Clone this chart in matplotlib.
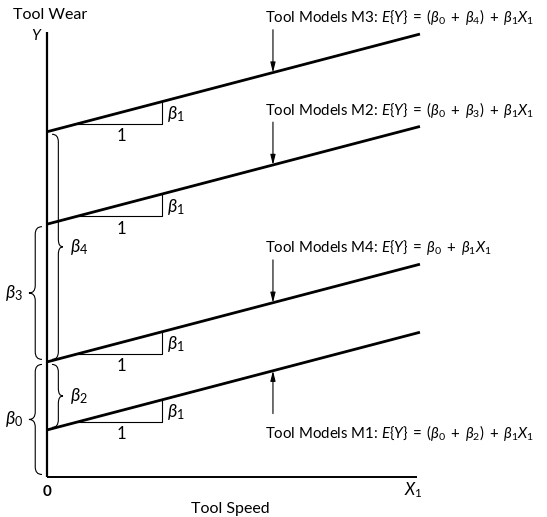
import matplotlib
matplotlib.use("Agg")
import matplotlib.pyplot as plt
from matplotlib.path import Path
from matplotlib.patches import PathPatch

plt.rcParams['font.family'] = ['Lato', 'DejaVu Sans']
plt.rcParams['mathtext.fontset'] = 'custom'
plt.rcParams['mathtext.rm'] = 'Lato'
plt.rcParams['mathtext.it'] = 'Lato:italic'
plt.rcParams['mathtext.bf'] = 'Lato:bold'

# ---------------- data (diagram units) ----------------
models = ["M3", "M2", "M4", "M1"]
intercepts = [4.11, 3.01, 1.37, 0.56]
slope = 0.262                     # beta_1 (common slope)
equations = [
    r"Tool Models M3: $E\{Y\}\;=\;(\beta_0\;+\;\beta_4)\;+\;\beta_1X_1$",
    r"Tool Models M2: $E\{Y\}\;=\;(\beta_0\;+\;\beta_3)\;+\;\beta_1X_1$",
    r"Tool Models M4: $E\{Y\}\;=\;\beta_0\;+\;\beta_1X_1$",
    r"Tool Models M1: $E\{Y\}\;=\;(\beta_0\;+\;\beta_2)\;+\;\beta_1X_1$",
]
arrow_dir = ["down", "down", "down", "up"]
x_line_end = 4.44
x_axis_max = 4.40
y_axis_max = 5.30
tri_start = 0.37
tri_run = 1.0
arrow_x = 2.69

brace_labels = [r"$\beta_0$", r"$\beta_3$", r"$\beta_4$", r"$\beta_2$"]
brace_low = [0.0, 1.37, 1.37, 0.56]
brace_high = [1.37, 3.01, 4.11, 1.37]
brace_side = ["left", "left", "right", "right"]

# ---------------- figure ----------------
PX = 84.0
fig = plt.figure(figsize=(5.47, 5.17), dpi=100)
ax = fig.add_axes([0, 0, 1, 1])
ax.set_xlim(-47 / PX, 500 / PX)
ax.set_ylim(-40 / PX, 477 / PX)
ax.axis('off')

FS = 11
EQ_FS = 10.8

# axes
ax.plot([0, 0], [0, y_axis_max], color='black', lw=1.6, solid_capstyle='butt')
ax.plot([0, x_axis_max], [0, 0], color='black', lw=1.4, solid_capstyle='butt')
ax.text(13 / PX - 47 / PX, 5.45, "Tool Wear", fontsize=FS + 0.5, ha='left', va='baseline')
ax.text(-0.12, 5.25, r"$Y$", fontsize=FS, ha='center', va='center')
ax.text(0.0, -0.18, "0", fontsize=FS, ha='center', va='center', fontweight='bold')
ax.text(4.36, -0.16, r"$X_1$", fontsize=FS + 1, ha='center', va='center')
ax.text(2.18, -0.43, "Tool Speed", fontsize=FS + 0.5, ha='center', va='baseline')

for m, b, eq, d in zip(models, intercepts, equations, arrow_dir):
    # model line
    ax.plot([0, x_line_end], [b, b + slope * x_line_end], color='black', lw=2.0,
            solid_capstyle='butt')
    # slope triangle
    y0 = b + slope * tri_start
    x1 = tri_start + tri_run
    ax.plot([tri_start, x1, x1], [y0, y0, b + slope * x1], color='black', lw=0.8)
    ax.text(tri_start + tri_run / 2 + 0.02, y0 - 0.15, "1", fontsize=FS + 1, ha='center', va='center')
    ax.text(x1 + 0.06, y0 + slope * tri_run / 2 - 0.02, r"$\beta_1$", fontsize=FS + 2,
            ha='left', va='center')
    # arrow + equation
    ly = b + slope * arrow_x
    if d == "down":
        tail = ly + 0.51
        ty = tail + 0.09
    else:
        tail = ly - 0.51
        ty = tail - 0.29
    ax.annotate("", xy=(arrow_x, ly), xytext=(arrow_x, tail),
                arrowprops=dict(arrowstyle='-|>,head_length=0.6,head_width=0.15',
                                lw=0.8, color='black', shrinkA=0, shrinkB=0))
    ax.text(2.595, ty, eq, fontsize=EQ_FS, ha='left', va='baseline')


def brace(ax, ylo, yhi, side):
    inset = 0.03
    ylo += inset
    yhi -= inset
    ym = (ylo + yhi) / 2
    r = 0.09
    if side == "left":
        xe, xs, xt = -0.06, -0.14, -0.215
    else:
        xe, xs, xt = 0.06, 0.135, 0.19
    verts = [(xe, yhi), (xs, yhi), (xs, yhi - r),
             (xs, ym + r), (xs, ym), (xt, ym),
             (xs, ym), (xs, ym - r),
             (xs, ylo + r), (xs, ylo), (xe, ylo)]
    codes = [Path.MOVETO, Path.CURVE3, Path.CURVE3,
             Path.LINETO, Path.CURVE3, Path.CURVE3,
             Path.CURVE3, Path.CURVE3,
             Path.LINETO, Path.CURVE3, Path.CURVE3]
    ax.add_patch(PathPatch(Path(verts, codes), facecolor='none', edgecolor='black', lw=0.8))
    return xt, ym


for lab, lo, hi, side in zip(brace_labels, brace_low, brace_high, brace_side):
    xt, ym = brace(ax, lo, hi, side)
    if side == "left":
        ax.text(-0.285, ym, lab, fontsize=FS + 2, ha='right', va='center')
    else:
        ax.text(0.27, ym, lab, fontsize=FS + 2, ha='left', va='center')

fig.savefig("out.png", dpi=100)
